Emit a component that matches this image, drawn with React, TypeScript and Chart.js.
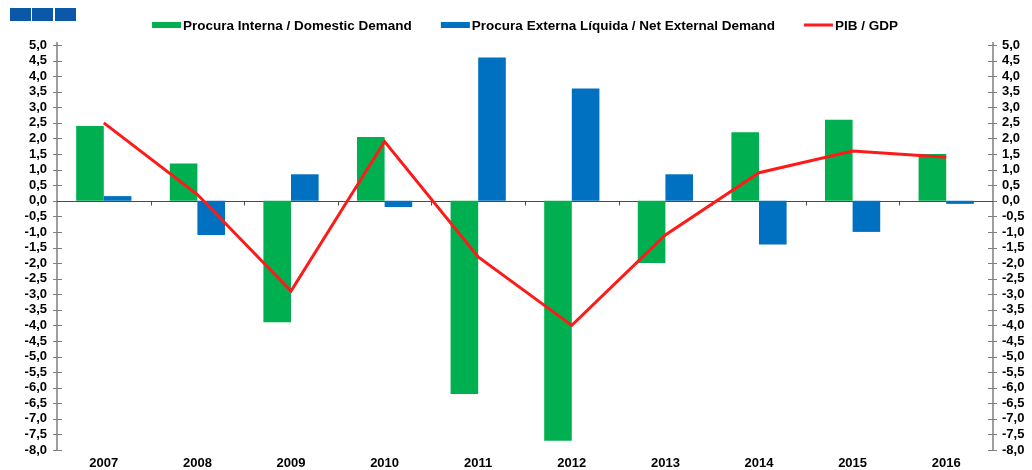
import React, { useEffect, useRef } from "react";
import { Chart, registerables } from "chart.js";

Chart.register(...registerables);

const years = ["2007", "2008", "2009", "2010", "2011", "2012", "2013", "2014", "2015", "2016"];
const domesticDemand = [2.4, 1.2, -3.9, 2.05, -6.2, -7.7, -2.0, 2.2, 2.6, 1.5];
const netExternalDemand = [0.15, -1.1, 0.85, -0.2, 4.6, 3.6, 0.85, -1.4, -1.0, -0.1];
const gdp = [2.5, 0.2, -2.9, 1.9, -1.8, -4.0, -1.1, 0.9, 1.6, 1.4];
const seriesLabels = [
  "Procura Interna / Domestic Demand",
  "Procura Externa Líquida / Net External Demand",
  "PIB / GDP",
];
const yMin = -8;
const yMax = 5;
const yStep = 0.5;

const FONT = '"Liberation Sans", Arial, sans-serif';

const fmt = (v: number) => {
  const s = Math.abs(v) < 1e-9 ? "0,0" : v.toFixed(1).replace(".", ",");
  return s;
};

const decorPlugin = {
  id: "decor",
  beforeDatasetsDraw(chart: any) {
    const { ctx, chartArea, scales } = chart;
    const y = scales.y;
    const x = scales.x;
    const L = chartArea.left;
    const R = chartArea.right;
    const seg = (x1: number, y1: number, x2: number, y2: number) => {
      ctx.beginPath();
      ctx.moveTo(x1, y1);
      ctx.lineTo(x2, y2);
      ctx.stroke();
    };
    ctx.save();
    ctx.strokeStyle = "#7f7f7f";
    ctx.lineWidth = 1.5;
    seg(L, chartArea.top - 3, L, chartArea.bottom + 1);
    seg(R, chartArea.top - 3, R, chartArea.bottom + 1);
    ctx.lineWidth = 1;
    y.ticks.forEach((t: any) => {
      const py = Math.round(y.getPixelForValue(t.value)) + 0.5;
      seg(L - 4, py, L + 5, py);
      seg(R - 5, py, R + 4, py);
    });
    const zy = Math.round(y.getPixelForValue(0)) + 0.5;
    ctx.strokeStyle = "#4a4a4a";
    ctx.lineWidth = 1.2;
    seg(L, zy, R, zy);
    ctx.lineWidth = 1;
    for (let i = 1; i < years.length; i++) {
      const px = Math.round((x.getPixelForValue(i - 1) + x.getPixelForValue(i)) / 2) + 0.5;
      seg(px, zy, px, zy + 4);
    }
    ctx.restore();
  },
  afterDraw(chart: any) {
    const { ctx, chartArea } = chart;
    ctx.save();
    ctx.font = `700 13.5px ${FONT}`;
    ctx.textBaseline = "middle";
    ctx.textAlign = "left";
    const boxW = 29;
    const gapBox = 2;
    const gapItem = 29;
    const items = chart.data.datasets.map((d: any) => ({
      label: d.label,
      color: d.type === "line" ? d.borderColor : d.backgroundColor,
      isLine: d.type === "line",
      w: ctx.measureText(d.label).width,
    }));
    const total = items.reduce((s: number, it: any) => s + boxW + gapBox + it.w, 0) + gapItem * (items.length - 1);
    let cx = (chartArea.left + chartArea.right) / 2 - total / 2;
    const cy = 25;
    items.forEach((it: any) => {
      ctx.fillStyle = it.color;
      if (it.isLine) ctx.fillRect(cx, cy - 1.5, boxW, 3);
      else ctx.fillRect(cx, cy - 3, boxW, 6);
      ctx.fillStyle = "#000";
      ctx.fillText(it.label, cx + boxW + gapBox, cy + 1);
      cx += boxW + gapBox + it.w + gapItem;
    });
    ctx.restore();
  },
};

export default function App() {
  const ref = useRef<HTMLCanvasElement | null>(null);
  useEffect(() => {
    if (!ref.current) return;
    const tickFont = { family: FONT, size: 13, weight: "bold" as const };
    const chart = new Chart(ref.current, {
      type: "bar",
      data: {
        labels: years,
        datasets: [
          {
            type: "bar",
            label: seriesLabels[0],
            data: domesticDemand,
            backgroundColor: "#00b050",
            categoryPercentage: 0.59,
            barPercentage: 1.0,
            order: 1,
            yAxisID: "y",
          },
          {
            type: "bar",
            label: seriesLabels[1],
            data: netExternalDemand,
            backgroundColor: "#0070c0",
            categoryPercentage: 0.59,
            barPercentage: 1.0,
            order: 1,
            yAxisID: "y",
          },
          {
            type: "line",
            label: seriesLabels[2],
            data: gdp,
            borderColor: "#ff1a1a",
            backgroundColor: "#ff1a1a",
            borderWidth: 3,
            pointRadius: 0,
            tension: 0,
            order: 0,
            yAxisID: "y",
          } as any,
        ],
      },
      options: {
        animation: false,
        responsive: false,
        maintainAspectRatio: false,
        layout: { padding: { top: 45, left: 0, right: 0, bottom: 0 } },
        plugins: { legend: { display: false }, tooltip: { enabled: false } },
        scales: {
          x: {
            grid: { display: false, drawTicks: false },
            border: { display: false },
            ticks: { font: tickFont, color: "#000", padding: 6, maxRotation: 0 },
            afterFit: (s: any) => {
              s.height = 20;
            },
          },
          y: {
            position: "left",
            min: yMin,
            max: yMax,
            grid: { display: false, drawTicks: false },
            border: { display: false },
            ticks: {
              stepSize: yStep,
              autoSkip: false,
              font: tickFont,
              color: "#000",
              padding: 10,
              callback: (v: any) => fmt(Number(v)),
            },
            afterFit: (s: any) => {
              s.width = 57;
            },
          },
          y2: {
            position: "right",
            min: yMin,
            max: yMax,
            grid: { display: false, drawTicks: false },
            border: { display: false },
            ticks: {
              stepSize: yStep,
              autoSkip: false,
              font: tickFont,
              color: "#000",
              padding: 9,
              callback: (v: any) => fmt(Number(v)),
            },
            afterFit: (s: any) => {
              s.width = 39;
            },
          },
        },
      },
      plugins: [decorPlugin],
    });
    return () => chart.destroy();
  }, []);

  const sq = (left: number) => (
    <div
      style={{ position: "absolute", left, top: 8, width: 21, height: 13, background: "#0b58a8" }}
    />
  );

  return (
    <div style={{ position: "fixed", left: 0, top: 0, width: 1032, height: 470, background: "#fff" }}>
      {sq(10)}
      {sq(32)}
      {sq(55)}
      <canvas ref={ref} width={1032} height={470} style={{ position: "absolute", left: 0, top: 0, width: 1032, height: 470 }} />
    </div>
  );
}
